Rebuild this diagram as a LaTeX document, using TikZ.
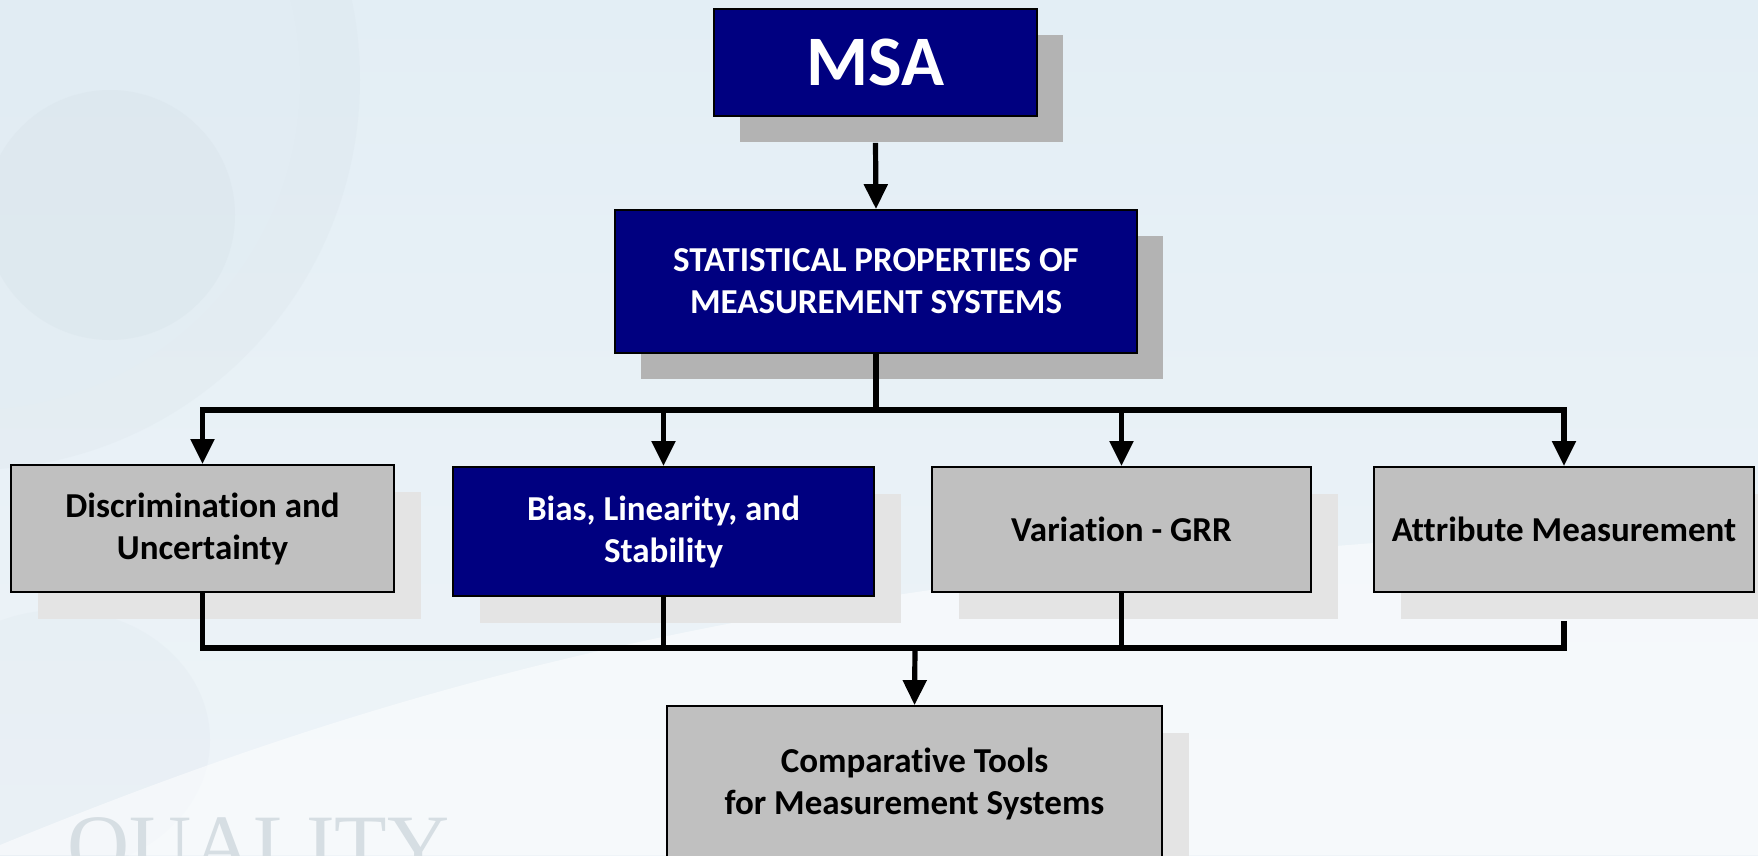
\documentclass[tikz,border=0pt]{standalone}
\usepackage{fontspec}
\setmainfont{Carlito}[Ligatures={NoCommon}]
\newfontfamily\wmfont{Liberation Serif}
\usetikzlibrary{arrows.meta,shadows,calc}
\definecolor{navy}{HTML}{000080}
\definecolor{boxgray}{HTML}{C0C0C0}
\definecolor{shdark}{HTML}{B3B3B3}
\definecolor{shlight}{HTML}{E4E4E4}
\definecolor{bgtop}{HTML}{E3EEF5}
\definecolor{bgbot}{HTML}{EEF4F8}
\definecolor{wmark}{HTML}{D6DEE3}
\definecolor{gearcol}{HTML}{D3DEE5}
\begin{document}
\begin{tikzpicture}[x=1pt,y=-1pt,
  basebox/.style={draw=black,line width=1.8pt,align=center,inner sep=0pt,
    font=\bfseries\fontsize{35}{42}\selectfont},
  navybox/.style={basebox,fill=navy,text=white},
  graybox/.style={basebox,fill=boxgray,text=black},
  darksh/.style={drop shadow={shadow xshift=26pt,shadow yshift=-26pt,opacity=1,fill=shdark,draw=none}},
  lightsh/.style={drop shadow={shadow xshift=27pt,shadow yshift=-27pt,opacity=1,fill=shlight,draw=none}},
  conn/.style={draw=black,line width=5.2pt},
  arr/.style={conn,-{Triangle[length=25pt,width=23pt]}}]
\useasboundingbox (0,0) rectangle (1758,855);
\clip (0,0) rectangle (1758,855);
% background
\shade[top color=bgtop,bottom color=bgbot] (0,0) rectangle (1758,855);
\fill[gearcol,opacity=0.18] (-30,80) circle (390);
\fill[bgtop,opacity=0.5] (-30,80) circle (330);
\fill[gearcol,opacity=0.25] (110,215) circle (125);
\fill[gearcol,opacity=0.15] (60,740) ellipse (150 and 130);
\fill[white,opacity=0.5] (0,855) -- (0,845) .. controls (500,640) and (900,560) .. (1758,520) -- (1758,855) -- cycle;
\node[anchor=base west,inner sep=0pt,text=wmark,font=\wmfont\fontsize{86}{90}\selectfont] (wm) at (67,874) {QUALITY};
% nodes
\node[navybox,darksh,minimum width=323pt,minimum height=107pt,font=\bfseries\fontsize{71}{80}\selectfont] (msa) at (875.5,62.5) {MSA};
\node[navybox,darksh,minimum width=522pt,minimum height=143pt] (stat) at (876,281.5) {STATISTICAL PROPERTIES OF\\MEASUREMENT SYSTEMS};
\node[graybox,lightsh,minimum width=383pt,minimum height=127pt] (disc) at (202.5,528.5) {Discrimination and\\Uncertainty};
\node[navybox,lightsh,minimum width=421pt,minimum height=129pt] (bias) at (663.5,531.5) {Bias, Linearity, and\\Stability};
\node[graybox,lightsh,minimum width=379pt,minimum height=125pt] (var) at (1121.5,529.5) {Variation - GRR};
\node[graybox,lightsh,minimum width=380pt,minimum height=125pt] (attr) at (1564,529.5) {Attribute Measurement};
\node[graybox,lightsh,minimum width=495pt,minimum height=156pt] (comp) at (914.5,784) {Comparative Tools\\for Measurement Systems};
% connectors
\coordinate (topbus) at (876,410);
\coordinate (botbus) at (915,648);
\draw[arr] ([yshift=-26pt]msa.south) -- (stat.north);
\draw[conn] (stat.south) -- (topbus);
\draw[arr] (topbus) -| (disc.north);
\draw[arr] (topbus) -| (bias.north);
\draw[arr] (topbus) -| (var.north);
\draw[arr] (topbus) -| (attr.north);
\draw[conn] (disc.south) |- (botbus);
\draw[conn] (bias.south) |- (botbus);
\draw[conn] (var.south) |- (botbus);
\draw[conn] ([yshift=-28pt]attr.south) |- (botbus);
\draw[arr] (botbus) -- (comp.north);
\end{tikzpicture}
\end{document}
